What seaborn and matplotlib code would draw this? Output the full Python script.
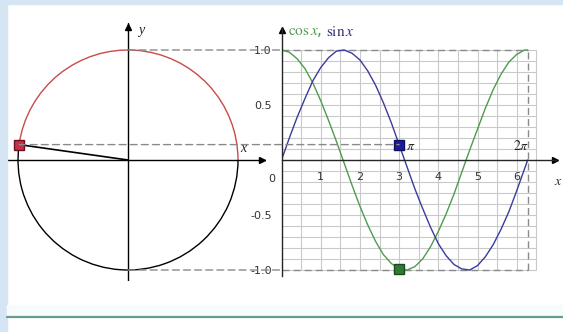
import matplotlib
matplotlib.use("Agg")
import matplotlib.pyplot as plt
import numpy as np
import pandas as pd
import seaborn as sns
from matplotlib.patches import Arc, ConnectionPatch, Rectangle
from matplotlib.lines import Line2D

# values
x_vals = [0.0, 0.2, 0.4, 0.6, 0.8, 1.0, 1.2, 1.4, 1.6, 1.8, 2.0, 2.2, 2.4, 2.6, 2.8, 3.0,
          3.2, 3.4, 3.6, 3.8, 4.0, 4.2, 4.4, 4.6, 4.8, 5.0, 5.2, 5.4, 5.6, 5.8, 6.0, 6.2, 6.28]
sin_vals = [0.0, 0.2, 0.39, 0.56, 0.72, 0.84, 0.93, 0.99, 1.0, 0.97, 0.91, 0.81, 0.68, 0.52,
            0.34, 0.14, -0.06, -0.26, -0.44, -0.61, -0.76, -0.87, -0.95, -0.99, -1.0, -0.96,
            -0.88, -0.77, -0.63, -0.47, -0.28, -0.08, 0.0]
cos_vals = [1.0, 0.98, 0.92, 0.83, 0.70, 0.54, 0.36, 0.17, -0.03, -0.23, -0.42, -0.59, -0.74,
            -0.86, -0.94, -0.99, -1.0, -0.97, -0.9, -0.79, -0.65, -0.49, -0.31, -0.11, 0.09,
            0.28, 0.47, 0.64, 0.78, 0.89, 0.96, 1.0, 1.0]
point_angle = 3.0          # radians, the marked point
point_sin = 0.14
point_cos = -0.99
two_pi = 6.28

SIN_COLOR = "#3b3b9c"
COS_COLOR = "#4f9a4f"
ARC_COLOR = "#c84a4a"
DASH = dict(color="#8a8a8a", lw=1.0, linestyle=(0, (5, 3)))

sns.set_style("white")
plt.rcParams["font.family"] = ["DejaVu Sans"]
plt.rcParams["mathtext.fontset"] = "stix"

fig = plt.figure(figsize=(5.63, 3.32), dpi=100)
fig.patch.set_facecolor("white")
# light blue page edges and the rule at the bottom
fig.patches.append(Rectangle((0, 0), 7 / 563, 1, transform=fig.transFigure, color="#d6e5f4", zorder=0))
fig.patches.append(Rectangle((0, 1 - 4 / 332), 1, 4 / 332, transform=fig.transFigure, color="#d6e5f4", zorder=0))
fig.patches.append(Rectangle((7 / 563, 15 / 332), 1, 12 / 332, transform=fig.transFigure, color="#f6fcfc", zorder=0))
fig.lines.append(Line2D([7 / 563, 1], [15 / 332, 15 / 332], transform=fig.transFigure, color="#6a9a8c", lw=1.6))

# ---- unit circle ----
axL = fig.add_axes([7 / 563, 51 / 332, 258.5 / 563, 258.5 / 332])
axL.set_xlim(-1.1, 1.25)
axL.set_ylim(-1.1, 1.25)
axL.set_aspect("equal")
axL.axis("off")
axL.patch.set_alpha(0)
axL.axhline(0, color="black", lw=1.0)
axL.axvline(0, color="black", lw=1.0)
axL.plot([1.22], [0], marker=">", color="black", ms=4, clip_on=False)
axL.plot([0], [1.21], marker="^", color="black", ms=4, clip_on=False)
deg = np.degrees(point_angle)
axL.add_patch(Arc((0, 0), 2, 2, theta1=0, theta2=deg, color=ARC_COLOR, lw=1.0))
axL.add_patch(Arc((0, 0), 2, 2, theta1=deg, theta2=360, color="black", lw=1.0))
axL.plot([0, point_cos], [0, point_sin], color="black", lw=1.2)
axL.plot([point_cos], [point_sin], marker="s", ms=7, color="#c8304a", mec="#6a1020", clip_on=False, zorder=5)
axL.text(1.05, 0.1, "x", fontsize=10, style="italic", family="Liberation Serif", ha="center", va="center")
axL.text(0.12, 1.18, "y", fontsize=10, style="italic", family="Liberation Serif", ha="center", va="center")

# ---- sin / cos graph ----
axR = fig.add_axes([281.5 / 563, 56.5 / 332, 274.4 / 563, 247.5 / 332])
axR.set_xlim(0, 7.0)
axR.set_ylim(-1.05, 1.2)
axR.patch.set_alpha(0)
for s in ["top", "right"]:
    axR.spines[s].set_visible(False)
axR.spines["left"].set_position(("data", 0))
axR.spines["bottom"].set_position(("data", 0))
axR.spines["left"].set_linewidth(1.0)
axR.spines["bottom"].set_linewidth(1.0)

grid_x = np.arange(0.5, 6.51, 0.5)
grid_y = np.arange(-1.0, 1.01, 0.1)
axR.vlines(grid_x, -1, 1, color="#c9c9c9", lw=0.8, zorder=0)
axR.hlines(grid_y, 0, 6.5, color="#c9c9c9", lw=0.8, zorder=0)

axR.set_xticks(grid_x, labels=[str(int(v)) if v == int(v) else "" for v in grid_x])
axR.set_yticks([-1, -0.5, 0, 0.5, 1], labels=["-1.0", "-0.5", "", "0.5", "1.0"])
axR.set_yticks(np.arange(-1.0, 1.01, 0.1), minor=True)
axR.tick_params(axis="both", which="major", direction="inout", length=6, width=1.0,
                labelsize=8, colors="black")
axR.tick_params(axis="x", pad=6)
axR.tick_params(axis="y", pad=4)
axR.tick_params(axis="y", which="minor", direction="inout", length=4, width=1.0)
for lab in axR.get_xticklabels() + axR.get_yticklabels():
    lab.set_color("#333333")

data = pd.DataFrame({"x": x_vals, "sin": sin_vals, "cos": cos_vals})
sns.lineplot(data=data, x="x", y="cos", ax=axR, color=COS_COLOR, lw=1.0, sort=False)
sns.lineplot(data=data, x="x", y="sin", ax=axR, color=SIN_COLOR, lw=1.0, sort=False)
axR.set_xlabel("")
axR.set_ylabel("")

# dashed guides
axR.plot([0, two_pi], [1, 1], **DASH, zorder=1)
axR.plot([0, two_pi], [-1, -1], **DASH, zorder=1)
axR.plot([two_pi, two_pi], [-1, 1], **DASH, zorder=1)
for yv in [1, -1]:
    con = ConnectionPatch(xyA=(0, yv), coordsA=axL.transData, xyB=(0, yv), coordsB=axR.transData, **DASH)
    fig.add_artist(con)
con = ConnectionPatch(xyA=(point_cos, point_sin), coordsA=axL.transData,
                      xyB=(point_angle, point_sin), coordsB=axR.transData, **DASH)
fig.add_artist(con)

axR.plot([point_angle], [point_sin], marker="s", ms=7.5, color="#1c1c9a", mec="#10105a", zorder=5)
axR.plot([point_angle], [point_cos], marker="s", ms=7, color="#2e7a36", mec="#1a4a1e", zorder=5)

axR.plot([6.98], [0], marker=">", color="black", ms=4, clip_on=False)
axR.plot([0], [1.18], marker="^", color="black", ms=4, clip_on=False)

axR.text(3.3, 0.13, r"$\pi$", fontsize=10, ha="center", va="center")
axR.text(6.12, 0.13, r"$2\pi$", fontsize=10, ha="center", va="center")
axR.text(-0.25, -0.17, "0", fontsize=8, ha="center", va="center", color="#333333")
axR.text(7.05, -0.19, r"$x$", fontsize=10, ha="center", va="center")
axR.text(0.17, 1.17, r"$\mathrm{cos}\,x$,", fontsize=11, ha="left", va="center", color=COS_COLOR)
axR.text(1.13, 1.17, r"$\mathrm{sin}\,x$", fontsize=11, ha="left", va="center", color="#2a2a7a")

fig.savefig("out.png", dpi=100)
